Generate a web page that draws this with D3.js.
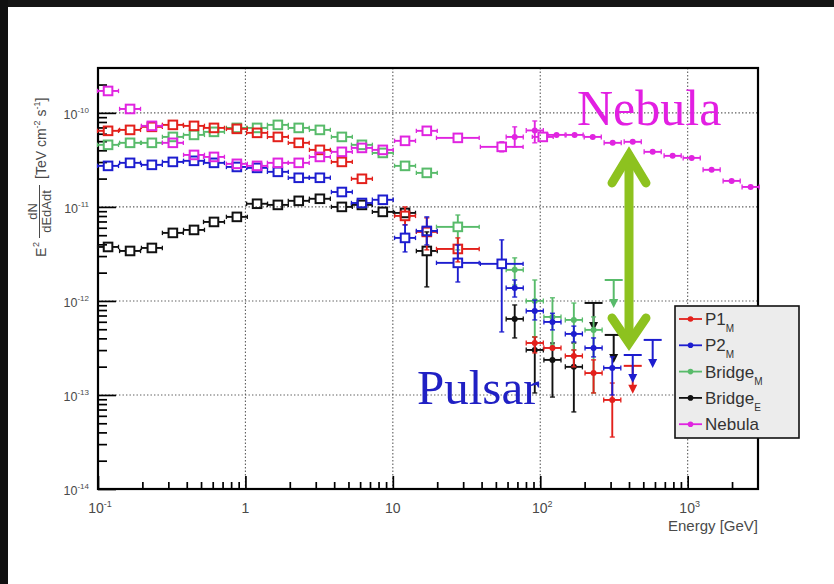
<!DOCTYPE html>
<html>
<head>
<meta charset="utf-8">
<script src="https://cdn.jsdelivr.net/npm/d3@7"></script>
<style>
  html, body { margin: 0; padding: 0; background: #fff; }
  svg { display: block; }
</style>
</head>
<body>
<svg id="chart" width="834" height="584"></svg>
<script>
// ---------------------------------------------------------------
// Spectral energy distribution: E^2 dN/dE  vs  Energy
// Point format: [energy GeV, flux, fluxLow, fluxHigh, binHalfWidth(decades)]
// ---------------------------------------------------------------

// Axis ticks
const xMajorTicks = [0.1, 1, 10, 100, 1000];
const xMajorLabels = [["10", "-1"], ["1", ""], ["10", ""], ["10", "2"], ["10", "3"]];
const yMajorTicks = [1e-14, 1e-13, 1e-12, 1e-11, 1e-10];
const yMajorLabels = [["10", "-14"], ["10", "-13"], ["10", "-12"], ["10", "-11"], ["10", "-10"]];

// P1_M
const p1Lat = [
  [0.117, 6.44e-11], [0.165, 6.59e-11], [0.232, 7.10e-11], [0.322, 7.45e-11],
  [0.448, 7.27e-11], [0.612, 6.92e-11], [0.875, 6.76e-11], [1.20, 6.13e-11],
  [1.66, 5.55e-11], [2.30, 4.80e-11], [3.20, 4.04e-11], [4.51, 3.01e-11],
  [6.17, 1.99e-11],
  [12.1, 8.02e-12, 6.44e-12, 1.00e-11],
  [17.0, 5.42e-12, 3.49e-12, 7.64e-12],
  [27.6, 3.57e-12, 2.60e-12, 4.68e-12, 0.145]
];
const p1Iact = [
  [91.8, 3.57e-13, 2.80e-13, 4.14e-13],
  [121, 3.16e-13],
  [169, 2.60e-13, 1.99e-13, 3.01e-13],
  [230, 1.71e-13, 1.05e-13, 2.36e-13],
  [308, 8.85e-14, 3.57e-14, 1.34e-13]
];
const p1Ul = [[424, 2.04e-13]];

// P2_M
const p2Lat = [
  [0.117, 2.73e-11], [0.165, 2.94e-11], [0.232, 2.80e-11], [0.322, 3.01e-11],
  [0.448, 3.09e-11], [0.612, 2.94e-11], [0.875, 2.66e-11], [1.20, 2.60e-11],
  [1.66, 2.36e-11], [2.30, 2.04e-11], [3.20, 2.04e-11], [4.51, 1.44e-11],
  [6.17, 1.10e-11], [8.55, 1.19e-11],
  [12.1, 4.68e-12, 3.32e-12, 6.44e-12],
  [17.0, 5.55e-12, 3.94e-12, 7.83e-12],
  [27.6, 2.54e-12, 1.59e-12, 3.94e-12, 0.145],
  [54.8, 2.48e-12, 4.68e-13, 4.46e-12, 0.145]
];
const p2Iact = [
  [67.1, 1.37e-12, 1.10e-12, 1.67e-12],
  [91.8, 7.83e-13, 6.28e-13, 1.02e-12],
  [121, 5.98e-13, 4.92e-13, 7.40e-13],
  [169, 4.46e-13, 3.66e-13, 5.40e-13],
  [230, 3.16e-13, 2.54e-13, 4.04e-13],
  [308, 1.94e-13, 1.00e-13, 2.54e-13]
];
const p2Ul = [[424, 2.66e-13], [579, 3.85e-13]];

// Bridge_M
const bridgeMLat = [
  [0.117, 4.57e-11], [0.165, 4.80e-11], [0.232, 4.80e-11], [0.322, 5.55e-11],
  [0.448, 5.83e-11], [0.612, 6.28e-11], [0.875, 6.92e-11], [1.20, 6.92e-11],
  [1.66, 7.45e-11], [2.30, 6.92e-11], [3.20, 6.59e-11], [4.51, 5.55e-11],
  [6.17, 4.57e-11], [8.55, 3.75e-11], [12.1, 2.73e-11], [17.0, 2.30e-11],
  [27.6, 6.13e-12, 3.49e-12, 8.20e-12, 0.145]
];
const bridgeMIact = [
  [67.1, 2.14e-12, 1.48e-12, 2.87e-12],
  [91.8, 1.00e-12, 4.14e-13, 1.67e-12],
  [121, 6.76e-13, 3.40e-13, 1.08e-12],
  [169, 6.28e-13, 3.01e-13, 9.50e-13],
  [230, 4.92e-13, 1.05e-13, 6.76e-13]
];
const bridgeMUl = [[315, 1.67e-12]];

// Bridge_E
const bridgeELat = [
  [0.117, 3.75e-12], [0.165, 3.40e-12], [0.232, 3.66e-12], [0.322, 5.29e-12],
  [0.448, 5.69e-12], [0.612, 6.92e-12], [0.875, 7.83e-12], [1.20, 1.08e-11],
  [1.66, 1.05e-11], [2.30, 1.16e-11], [3.20, 1.22e-11], [4.51, 1.00e-11],
  [6.17, 1.05e-11], [8.55, 8.85e-12], [12.1, 8.63e-12],
  [17.0, 3.40e-12, 1.41e-12, 5.42e-12]
];
const bridgeEIact = [
  [67.1, 6.44e-13, 4.04e-13, 9.06e-13],
  [91.8, 3.01e-13, 1.05e-13, 4.14e-13],
  [121, 2.36e-13, 9.50e-14, 3.57e-13],
  [169, 1.99e-13, 6.60e-14, 3.57e-13]
];
const bridgeEUl = [[230, 9.52e-13], [315, 4.35e-13]];

// Nebula
const nebulaLat = [
  [0.117, 1.71e-10], [0.165, 1.10e-10], [0.232, 7.27e-11], [0.322, 4.80e-11],
  [0.448, 3.57e-11], [0.612, 3.40e-11], [0.875, 2.87e-11], [1.20, 2.73e-11],
  [1.66, 2.94e-11], [2.30, 2.94e-11], [3.20, 3.40e-11], [4.51, 3.85e-11],
  [6.17, 4.24e-11], [8.55, 4.04e-11], [12.1, 5.04e-11], [17.0, 6.44e-11],
  [27.6, 5.42e-11, null, null, 0.145],
  [54.8, 4.35e-11, 3.85e-11, 4.92e-11, 0.145],
  [104, 5.55e-11]
];
const nebulaIact = [
  [67.1, 5.55e-11, 4.35e-11, 7.10e-11], [91.8, 6.50e-11, 4.80e-11, 8.20e-11],
  [129, 5.83e-11], [171, 5.83e-11], [227, 5.55e-11], [310, 4.80e-11],
  [424, 4.92e-11], [579, 3.85e-11], [791, 3.49e-11], [1065, 3.32e-11],
  [1454, 2.48e-11], [1988, 1.89e-11], [2673, 1.63e-11]
];
const nebulaUl = [];

const legendNames = [["P1", "M"], ["P2", "M"], ["Bridge", "M"], ["Bridge", "E"], ["Nebula", ""]];
const seriesColors = ["#e3201b", "#1d1dcf", "#58bb6a", "#111111", "#e024e0"];

const series = [
  { lat: p1Lat, iact: p1Iact, ul: p1Ul, color: seriesColors[0] },
  { lat: p2Lat, iact: p2Iact, ul: p2Ul, color: seriesColors[1] },
  { lat: bridgeMLat, iact: bridgeMIact, ul: bridgeMUl, color: seriesColors[2] },
  { lat: bridgeELat, iact: bridgeEIact, ul: bridgeEUl, color: seriesColors[3] },
  { lat: nebulaLat, iact: nebulaIact, ul: nebulaUl, color: seriesColors[4] }
];
// drawing order (later on top)
const drawOrder = [3, 2, 0, 1, 4];

// ---------------------------------------------------------------
const svg = d3.select("#chart");
const W = 834, H = 584;
const plot = { left: 98, right: 758, top: 68, bottom: 489 };

svg.append("rect").attr("width", W).attr("height", H).attr("fill", "#fff");
// dark frame along the top and left edges
svg.append("rect").attr("x", 0).attr("y", 0).attr("width", W).attr("height", 7).attr("fill", "#151515");
svg.append("rect").attr("x", 0).attr("y", 0).attr("width", 8).attr("height", H).attr("fill", "#101010");

const x = d3.scaleLog().domain([0.1, 3000]).range([plot.left, plot.right]);
const y = d3.scaleLog().domain([1e-14, 3e-10]).range([plot.bottom, plot.top]);

const font = "'Liberation Sans', Arial, Helvetica, sans-serif";

// grid
const grid = svg.append("g").attr("stroke", "#5e5e5e").attr("stroke-width", 1.1)
  .attr("stroke-dasharray", "1.4,2.1");
xMajorTicks.filter(v => v > 0.1).forEach(v => {
  grid.append("line").attr("x1", x(v)).attr("x2", x(v)).attr("y1", plot.top).attr("y2", plot.bottom);
});
yMajorTicks.filter(v => v > 1e-14).forEach(v => {
  grid.append("line").attr("x1", plot.left).attr("x2", plot.right).attr("y1", y(v)).attr("y2", y(v));
});

// minor / major ticks via d3 axes (drawn inward)
const xMinor = [];
[0.1, 1, 10, 100, 1000].forEach(d => { for (let k = 2; k <= 9; k++) { const v = d * k; if (v < 3000) xMinor.push(v); } });
const yMinor = [];
[1e-14, 1e-13, 1e-12, 1e-11, 1e-10].forEach(d => { for (let k = 2; k <= 9; k++) { const v = d * k; if (v < 2.9e-10) yMinor.push(v); } });

function styleAxis(g) {
  g.select(".domain").remove();
  g.selectAll("text").remove();
  g.selectAll("line").attr("stroke", "#000").attr("stroke-width", 1.7);
}
svg.append("g").attr("transform", `translate(0,${plot.bottom})`)
  .call(d3.axisBottom(x).tickValues(xMinor).tickSize(-7)).call(styleAxis);
svg.append("g").attr("transform", `translate(0,${plot.bottom})`)
  .call(d3.axisBottom(x).tickValues(xMajorTicks).tickSize(-13)).call(styleAxis);
svg.append("g").attr("transform", `translate(${plot.left},0)`)
  .call(d3.axisLeft(y).tickValues(yMinor).tickSize(-9)).call(styleAxis);
svg.append("g").attr("transform", `translate(${plot.left},0)`)
  .call(d3.axisLeft(y).tickValues(yMajorTicks).tickSize(-18)).call(styleAxis);

// frame
svg.append("rect").attr("x", plot.left).attr("y", plot.top)
  .attr("width", plot.right - plot.left).attr("height", plot.bottom - plot.top)
  .attr("fill", "none").attr("stroke", "#000").attr("stroke-width", 2.2);

// tick labels
const labelColor = "#4a4a4a";
xMajorTicks.forEach((v, i) => {
  const [base, exp] = xMajorLabels[i];
  const t = svg.append("text").attr("x", x(v) + (exp ? 2 : 0)).attr("y", 513).attr("text-anchor", "middle")
    .attr("font-family", font).attr("font-size", 14).attr("fill", labelColor);
  t.append("tspan").text(base);
  if (exp) t.append("tspan").attr("dy", -6).attr("font-size", 9).text(exp);
});
yMajorTicks.forEach((v, i) => {
  const [base, exp] = yMajorLabels[i];
  const t = svg.append("text").attr("x", 89).attr("y", y(v) + 6).attr("text-anchor", "end")
    .attr("font-family", font).attr("font-size", 12.5).attr("fill", labelColor);
  t.append("tspan").text(base);
  t.append("tspan").attr("dy", -6).attr("font-size", 8).text(exp);
});

// axis titles
svg.append("text").attr("x", plot.right).attr("y", 531).attr("text-anchor", "end")
  .attr("font-family", font).attr("font-size", 15).attr("fill", labelColor).text("Energy [GeV]");

const yt = svg.append("g").attr("transform", "translate(46,257) rotate(-90)")
  .attr("font-family", font).attr("fill", labelColor);
yt.append("text").attr("x", 0).attr("y", 0).attr("font-size", 14).text("E");
yt.append("text").attr("x", 10).attr("y", -7).attr("font-size", 9).text("2");
yt.append("line").attr("x1", 19).attr("x2", 72).attr("y1", -6.5).attr("y2", -6.5)
  .attr("stroke", labelColor).attr("stroke-width", 1);
yt.append("text").attr("x", 45.5).attr("y", -9).attr("text-anchor", "middle").attr("font-size", 13).text("dN");
yt.append("text").attr("x", 45.5).attr("y", 4.5).attr("text-anchor", "middle").attr("font-size", 13).text("dEdAdt");
const unit = yt.append("text").attr("x", 78).attr("y", 0).attr("font-size", 14);
unit.append("tspan").text("[TeV cm");
unit.append("tspan").attr("dy", -6).attr("font-size", 9).text("-2");
unit.append("tspan").attr("dy", 6).text(" s");
unit.append("tspan").attr("dy", -6).attr("font-size", 9).text("-1");
unit.append("tspan").attr("dy", 6).text("]");

// ---------------------------------------------------------------
// data marks
const marks = svg.append("g");

function seg(g, x1, y1, x2, y2, color, w) {
  g.append("line").attr("x1", x1).attr("y1", y1).attr("x2", x2).attr("y2", y2)
    .attr("stroke", color).attr("stroke-width", w || 1.9);
}

function drawLat(g, pts, color) {
  pts.forEach(d => {
    const [e, f, lo, hi, hwIn] = d;
    const hw = hwIn || 0.071;
    const cx = x(e), cy = y(f);
    const x0 = x(e / Math.pow(10, hw)), x1 = x(e * Math.pow(10, hw));
    const s = 4.3;
    seg(g, x0, cy, cx - s, cy, color);
    seg(g, cx + s, cy, x1, cy, color);
    seg(g, x0, cy - 2.2, x0, cy + 2.2, color, 1.3);
    seg(g, x1, cy - 2.2, x1, cy + 2.2, color, 1.3);
    if (lo) {
      seg(g, cx, cy + s, cx, y(lo), color);
      seg(g, cx - 2.5, y(lo), cx + 2.5, y(lo), color, 1.3);
    }
    if (hi) {
      seg(g, cx, cy - s, cx, y(hi), color);
      seg(g, cx - 2.5, y(hi), cx + 2.5, y(hi), color, 1.3);
    }
    g.append("rect").attr("x", cx - s).attr("y", cy - s).attr("width", 2 * s).attr("height", 2 * s)
      .attr("fill", "none").attr("stroke", color).attr("stroke-width", 2);
  });
}

function drawIact(g, pts, color) {
  pts.forEach(d => {
    const [e, f, lo, hi, hwIn] = d;
    const hw = hwIn || 0.058;
    const cx = x(e), cy = y(f);
    const x0 = x(e / Math.pow(10, hw)), x1 = x(e * Math.pow(10, hw));
    seg(g, x0, cy, x1, cy, color);
    seg(g, x0, cy - 2.5, x0, cy + 2.5, color, 1.3);
    seg(g, x1, cy - 2.5, x1, cy + 2.5, color, 1.3);
    if (lo && hi) {
      seg(g, cx, y(lo), cx, y(hi), color);
      seg(g, cx - 2.5, y(lo), cx + 2.5, y(lo), color, 1.3);
      seg(g, cx - 2.5, y(hi), cx + 2.5, y(hi), color, 1.3);
    }
    g.append("circle").attr("cx", cx).attr("cy", cy).attr("r", 3).attr("fill", color);
  });
}

function drawUl(g, pts, color) {
  pts.forEach(d => {
    const [e, f] = d;
    const cx = x(e), cy = y(f);
    seg(g, cx - 9, cy, cx + 9, cy, color, 2);
    seg(g, cx, cy, cx, cy + 22, color, 2);
    g.append("path")
      .attr("d", `M${cx - 4.5},${cy + 19} L${cx + 4.5},${cy + 19} L${cx},${cy + 28} Z`)
      .attr("fill", color);
  });
}

drawOrder.forEach(i => {
  const s = series[i];
  const g = marks.append("g");
  drawLat(g, s.lat, s.color);
  drawIact(g, s.iact, s.color);
  drawUl(g, s.ul, s.color);
});

// ---------------------------------------------------------------
// annotations
svg.append("text").attr("x", 577).attr("y", 125)
  .attr("font-family", "'Liberation Serif', 'Times New Roman', serif")
  .attr("font-size", 50).attr("fill", "#e21fe2").text("Nebula");
svg.append("text").attr("x", 417).attr("y", 404)
  .attr("font-family", "'Liberation Serif', 'Times New Roman', serif")
  .attr("font-size", 49).attr("fill", "#2020c4").text("Pulsar");

// double-headed arrow between nebula and pulsar levels
const arrowG = svg.append("g").attr("stroke", "#8dc21f").attr("stroke-width", 9)
  .attr("fill", "none").attr("stroke-linecap", "round").attr("stroke-linejoin", "miter");
const ax = 629, aTop = 152, aBot = 346;
arrowG.append("line").attr("x1", ax).attr("x2", ax).attr("y1", aTop + 4).attr("y2", aBot - 4);
arrowG.append("polyline").attr("points", `${ax - 17},${aTop + 31} ${ax},${aTop + 3} ${ax + 17},${aTop + 31}`);
arrowG.append("polyline").attr("points", `${ax - 17},${aBot - 28} ${ax},${aBot - 3} ${ax + 17},${aBot - 28}`);

// ---------------------------------------------------------------
// legend
const lg = svg.append("g");
lg.append("rect").attr("x", 675).attr("y", 306).attr("width", 124).attr("height", 132)
  .attr("fill", "#ececec").attr("stroke", "#111").attr("stroke-width", 1.6);
legendNames.forEach((nm, i) => {
  const cy = 319 + i * 26.3;
  const c = seriesColors[i];
  lg.append("line").attr("x1", 679).attr("x2", 702).attr("y1", cy).attr("y2", cy)
    .attr("stroke", c).attr("stroke-width", 1.8);
  lg.append("circle").attr("cx", 690.5).attr("cy", cy).attr("r", 2.8).attr("fill", c);
  const t = lg.append("text").attr("x", 705).attr("y", cy + 6).attr("font-family", font)
    .attr("font-size", 17).attr("fill", "#333");
  t.append("tspan").text(nm[0]);
  if (nm[1]) t.append("tspan").attr("dy", 7).attr("font-size", 10).text(nm[1]);
});
</script>
</body>
</html>
